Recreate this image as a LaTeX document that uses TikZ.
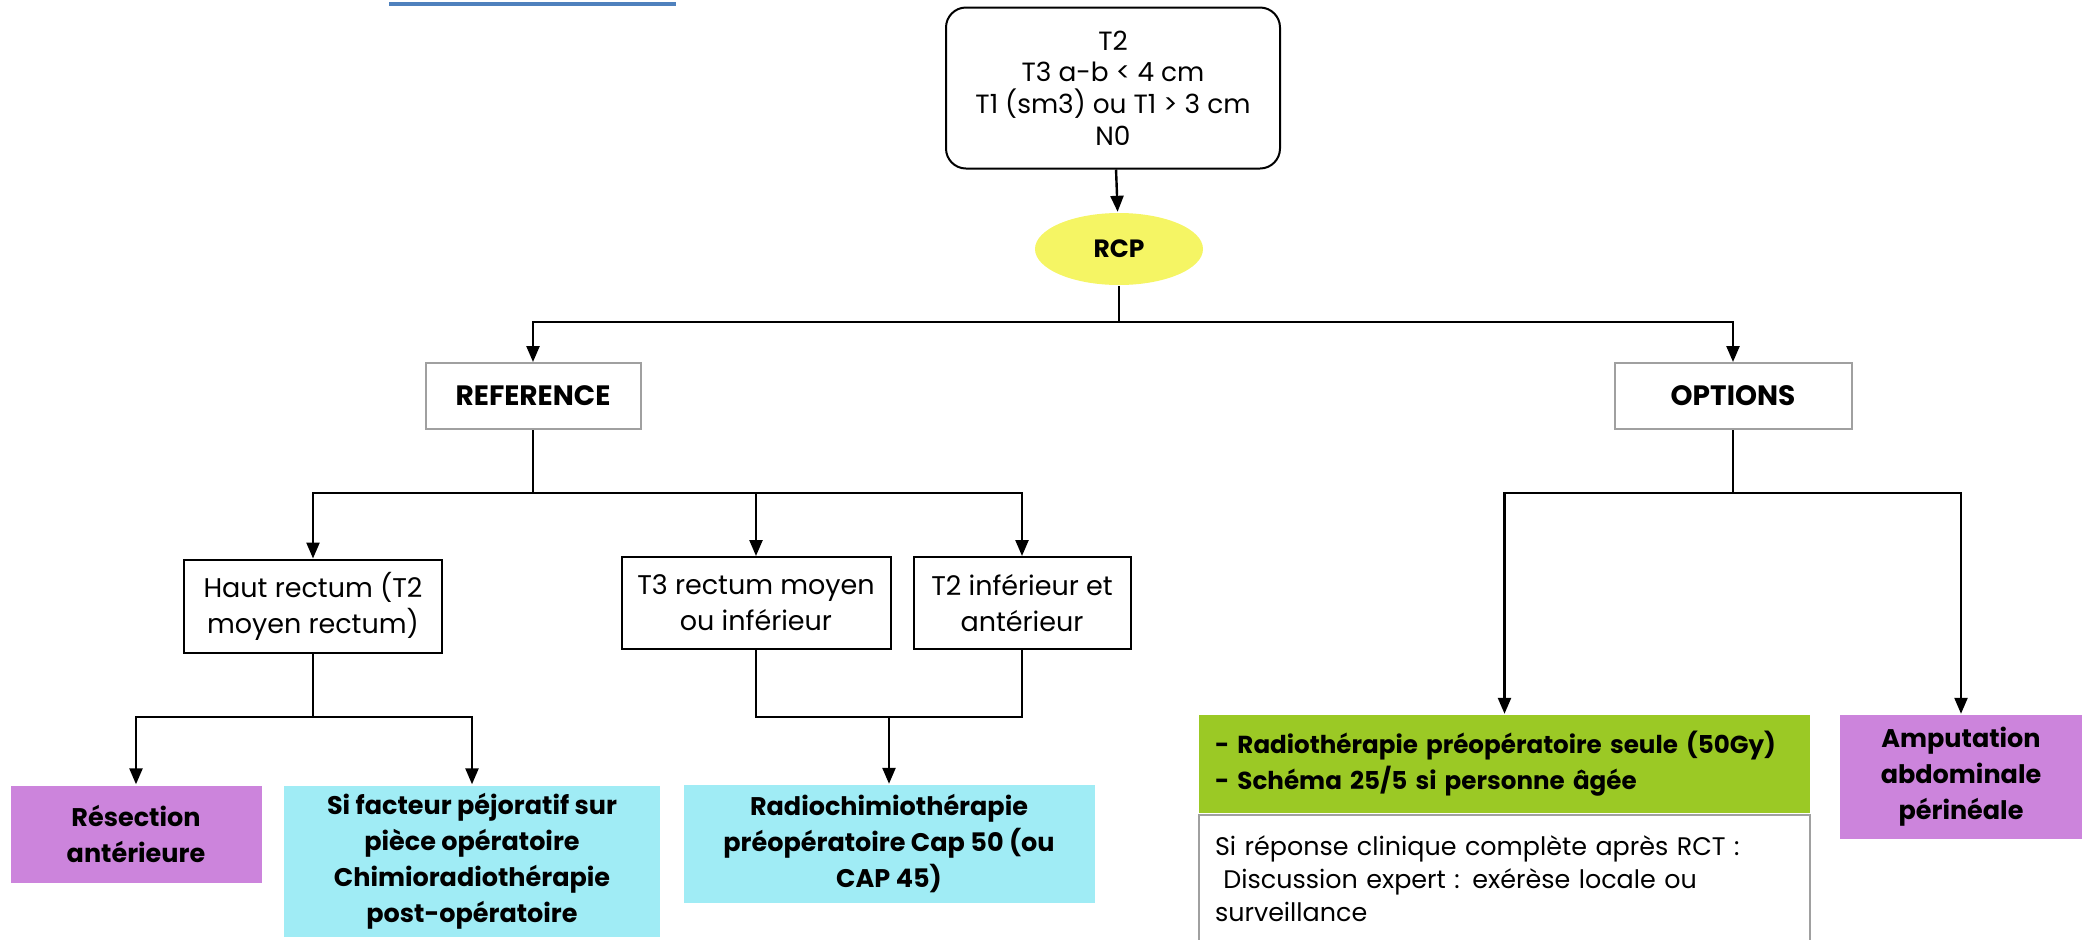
\documentclass[tikz,border=0pt]{standalone}
\usepackage{fontspec}
\setmainfont{Poppins}
\usetikzlibrary{arrows.meta,shapes.geometric}
\definecolor{linkblue}{HTML}{4F81BD}
\definecolor{rcpyellow}{HTML}{F5F564}
\definecolor{framegray}{HTML}{A0A0A0}
\definecolor{violetbox}{HTML}{CC84DC}
\definecolor{cyanbox}{HTML}{A0ECF5}
\definecolor{greenbox}{HTML}{9BC925}
\tikzset{
every picture/.style={line width=1.2pt},
arr/.style={-{Triangle[length=8pt,width=6.5pt]}},
plainbox/.style={draw, line width=1pt, align=center, inner sep=0pt, font=\fontsize{13.5}{18}\selectfont},
fillbox/.style={align=center, inner sep=0pt, font=\bfseries\fontsize{12.75}{18}\selectfont},
headbox/.style={draw=framegray, line width=1pt, inner sep=0pt, minimum height=33pt, font=\bfseries\fontsize{14}{16}\selectfont}
}

\begin{document}
\begin{tikzpicture}[x=0.5pt,y=-0.5pt]
  \useasboundingbox (0,0) rectangle (2089,939);
  \clip (0,0) rectangle (2089,939);
  \draw[linkblue, line width=2pt] (389,4) -- (676,4);
  \node[plainbox, rounded corners=10pt, minimum width=167pt, minimum height=80.5pt, font=\fontsize{13.2}{15.8}\selectfont] (crit) at (1113,88) {T2\\T3 a-b < 4 cm\\T1 (sm3) ou T1 > 3 cm\\N0};
  \node[ellipse, fill=rcpyellow, inner sep=0pt, minimum width=84pt, minimum height=36pt, font=\bfseries\fontsize{12.5}{14}\selectfont] (rcp) at (1119,249) {RCP};
  \node[headbox, minimum width=107.5pt] (ref) at (533,396) {REFERENCE};
  \node[headbox, minimum width=118.5pt] (opt) at (1733,396) {OPTIONS};
  \node[plainbox, minimum width=129pt, minimum height=46.5pt] (haut) at (313,606) {Haut rectum (T2\\moyen rectum)};
  \node[plainbox, minimum width=134.5pt, minimum height=46pt] (t3) at (756,603) {T3 rectum moyen\\ou inférieur};
  \node[plainbox, minimum width=108.5pt, minimum height=46pt] (t2) at (1022,603) {T2 inférieur et\\antérieur};
  \node[fillbox, fill=violetbox, minimum width=125.5pt, minimum height=48.5pt] (res) at (136,834) {Résection\\antérieure};
  \node[fillbox, fill=cyanbox, minimum width=188pt, minimum height=75.5pt] (sif) at (472,861) {Si facteur péjoratif sur\\pièce opératoire\\Chimioradiothérapie\\post-opératoire};
  \node[fillbox, fill=cyanbox, minimum width=205.5pt, minimum height=59pt] (crt) at (889,844) {Radiochimiothérapie\\préopératoire Cap 50 (ou\\CAP 45)};
  \node[fillbox, fill=greenbox, align=left, inner xsep=8pt, text width=289.5pt, minimum height=49pt, font=\bfseries\fontsize{12.3}{18}\selectfont] (rt) at (1504.5,764) {- Radiothérapie préopératoire seule (50Gy)\\- Schéma 25/5 si personne âgée};
  \node[draw=framegray, line width=1pt, anchor=north, align=left, inner xsep=8pt, inner ysep=10pt, text width=289.5pt, font=\fontsize{12.7}{16.7}\selectfont] (rct) at (rt.south) {Si réponse clinique complète après RCT :\\ \ Discussion expert : exérèse locale ou\\surveillance};
  \node[fillbox, fill=violetbox, minimum width=121pt, minimum height=62pt] (amp) at (1961,777) {Amputation\\abdominale\\périnéale};
  \draw[arr] (crit) -- (rcp);
  \coordinate (rcpfork) at (1119,322);
  \draw (rcp) -- (rcpfork);
  \draw[arr] (rcpfork) -| (ref);
  \draw[arr] (rcpfork) -| (opt);
  \coordinate (reffork) at (533,493);
  \draw (ref) -- (reffork);
  \foreach \n in {haut,t3,t2}
    \draw[arr] (reffork) -| (\n);
  \coordinate (hautfork) at (313,717);
  \draw (haut) -- (hautfork);
  \foreach \n in {res,sif}
    \draw[arr] (hautfork) -| (\n);
  \coordinate (crtfork) at (889,717);
  \draw (t3) |- (crtfork) -| (t2);
  \draw[arr] (crtfork) -- (crt);
  \coordinate (optfork) at (1733,493);
  \draw (opt) -- (optfork);
  \foreach \n in {rt,amp}
    \draw[arr] (optfork) -| (\n);
\end{tikzpicture}
\end{document}
